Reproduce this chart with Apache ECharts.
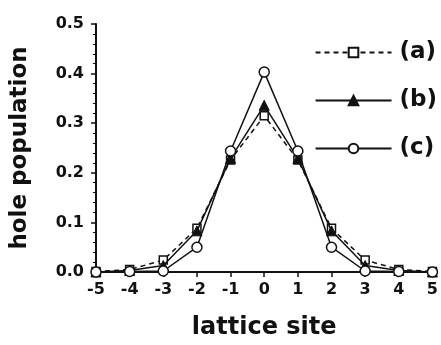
<!DOCTYPE html>
<html><head><meta charset="utf-8">
<script src="https://cdn.jsdelivr.net/npm/echarts@6/dist/echarts.min.js"></script>
<style>html,body{margin:0;padding:0;background:#fff}#c{width:441px;height:345px}</style>
</head><body><div id="c"></div>
<script>
const sites = [-5,-4,-3,-2,-1,0,1,2,3,4,5];
const seriesA = [0.001,0.005,0.024,0.088,0.226,0.315,0.226,0.088,0.024,0.005,0.001];
const seriesB = [0.0,0.003,0.013,0.083,0.229,0.336,0.229,0.083,0.013,0.003,0.0];
const seriesC = [0.0,0.001,0.002,0.050,0.244,0.403,0.244,0.050,0.002,0.001,0.0];
const names = ['(a)','(b)','(c)'];
const yTicks = [0,0.1,0.2,0.3,0.4,0.5];

const font = 'DejaVu Sans, sans-serif';
const chart = echarts.init(document.getElementById('c'));
const mk = (arr)=>arr.map((v,i)=>[sites[i],v]);
chart.setOption({
  animation:false,
  backgroundColor:'#fff',
  grid:{left:96,right:8,top:24,bottom:69},
  legend:{
    orient:'vertical', right:4, top:41, padding:0, itemGap:25, itemWidth:76, itemHeight:12,
    textStyle:{fontFamily:font,fontSize:23,color:'#111',fontWeight:'bold',padding:[0,0,0,3]},
    data:names
  },
  xAxis:{
    type:'value', min:-5, max:5, interval:1,
    name:'lattice site', nameLocation:'middle', nameGap:44,
    nameTextStyle:{fontFamily:font,fontSize:24,color:'#111',fontWeight:'bold'},
    axisLine:{lineStyle:{color:'#111',width:2}},
    axisTick:{inside:false,length:5,lineStyle:{color:'#111',width:1.5}},
    axisLabel:{fontFamily:font,fontSize:16,color:'#111',fontWeight:'bold',margin:10},
    splitLine:{show:false}
  },
  yAxis:{
    type:'value', min:0, max:0.5, interval:0.1,
    name:'hole population', nameLocation:'middle', nameGap:64,
    nameTextStyle:{fontFamily:font,fontSize:23,color:'#111',fontWeight:'bold'},
    axisLine:{onZero:false,lineStyle:{color:'#111',width:2}},
    axisTick:{inside:false,length:5,lineStyle:{color:'#111',width:1.5}},
    minorTick:{show:true,splitNumber:5,length:3,lineStyle:{color:'#111',width:1}},
    axisLabel:{fontFamily:font,fontSize:16,color:'#111',fontWeight:'bold',margin:12,
      formatter:v=>{const t=yTicks.find(x=>Math.abs(x-v)<1e-9);return (t!==undefined?t:v).toFixed(1);}},
    splitLine:{show:false}
  },
  series:[
    {name:names[0],type:'line',data:mk(seriesA),symbol:'rect',symbolSize:8,
      lineStyle:{color:'#111',width:1.5,type:[5,4]},itemStyle:{color:'#fff',borderColor:'#111',borderWidth:1.5},z:3},
    {name:names[1],type:'line',data:mk(seriesB),symbol:'triangle',symbolSize:10,
      lineStyle:{color:'#111',width:1.5},itemStyle:{color:'#111',borderColor:'#111',borderWidth:1},z:4},
    {name:names[2],type:'line',data:mk(seriesC),symbol:'circle',symbolSize:10,
      lineStyle:{color:'#111',width:1.5},itemStyle:{color:'#fff',borderColor:'#111',borderWidth:1.5},z:5}
  ]
});
</script></body></html>
